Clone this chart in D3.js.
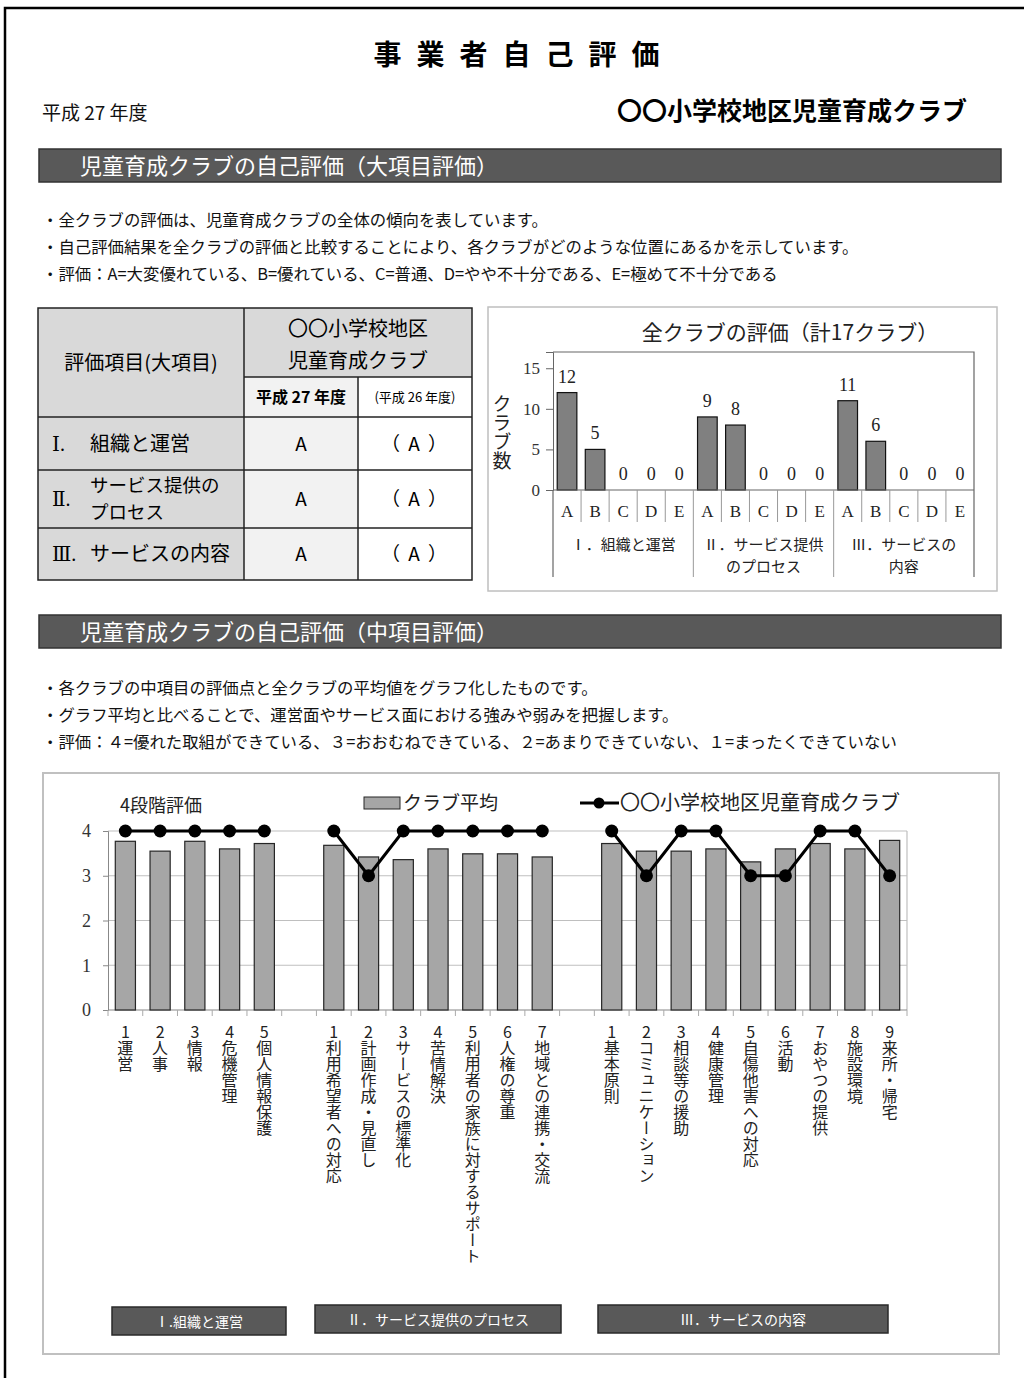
<!DOCTYPE html>
<html><head><meta charset="utf-8">
<script src="https://cdn.jsdelivr.net/npm/d3@7"></script>
<style>
html,body{margin:0;padding:0;background:#fff;}
svg text{font-family:"Noto Sans CJK JP","Noto Sans",sans-serif;}
.serif{font-family:"Liberation Serif","DejaVu Serif",serif !important;}
</style></head>
<body>
<svg id="page" width="1024" height="1378"></svg>
<script>
// ---------- DATA ----------
const pageTitle = "事業者自己評価";
const fiscalYear = "平成 27 年度";
const clubName = "〇〇小学校地区児童育成クラブ";
const section1Title = "児童育成クラブの自己評価（大項目評価）";
const section1Notes = [
  "・全クラブの評価は、児童育成クラブの全体の傾向を表しています。",
  "・自己評価結果を全クラブの評価と比較することにより、各クラブがどのような位置にあるかを示しています。",
  "・評価：A=大変優れている、B=優れている、C=普通、D=やや不十分である、E=極めて不十分である"
];
const section2Title = "児童育成クラブの自己評価（中項目評価）";
const section2Notes = [
  "・各クラブの中項目の評価点と全クラブの平均値をグラフ化したものです。",
  "・グラフ平均と比べることで、運営面やサービス面における強みや弱みを把握します。",
  "・評価：４=優れた取組ができている、３=おおむねできている、２=あまりできていない、１=まったくできていない"
];
// table
const tableRowNums = ["Ⅰ.", "Ⅱ.", "Ⅲ."];
const tableRowNames = [["組織と運営"], ["サービス提供の", "プロセス"], ["サービスの内容"]];
const tableGrade27 = ["A", "A", "A"];
const tableGrade26 = ["（ A ）", "（ A ）", "（ A ）"];
// top chart
const topChartTitle = "全クラブの評価（計17クラブ）";
const grades = ["A", "B", "C", "D", "E"];
const topGroupLabels = [["Ⅰ．組織と運営"], ["Ⅱ．サービス提供", "のプロセス"], ["Ⅲ．サービスの", "内容"]];
const topCountsI = [12, 5, 0, 0, 0];
const topCountsII = [9, 8, 0, 0, 0];
const topCountsIII = [11, 6, 0, 0, 0];
const topTicks = [0, 5, 10, 15];
// bottom chart
const itemsI = ["1運営", "2人事", "3情報", "4危機管理", "5個人情報保護"];
const itemsII = ["1利用希望者への対応", "2計画作成・見直し", "3サービスの標準化", "4苦情解決", "5利用者の家族に対するサポート", "6人権の尊重", "7地域との連携・交流"];
const itemsIII = ["1基本原則", "2コミュニケーション", "3相談等の援助", "4健康管理", "5自傷他害への対応", "6活動", "7おやつの提供", "8施設環境", "9来所・帰宅"];
const avgI = [3.77, 3.55, 3.77, 3.60, 3.72];
const avgII = [3.68, 3.42, 3.36, 3.60, 3.49, 3.49, 3.42];
const avgIII = [3.72, 3.55, 3.55, 3.60, 3.31, 3.60, 3.72, 3.60, 3.79];
const clubI = [4, 4, 4, 4, 4];
const clubII = [4, 3, 4, 4, 4, 4, 4];
const clubIII = [4, 3, 4, 4, 3, 3, 4, 4, 3];
const bottomTicks = [0, 1, 2, 3, 4];
const bottomGroupButtons = ["Ⅰ.組織と運営", "Ⅱ．サービス提供のプロセス", "Ⅲ．サービスの内容"];
const legendScaleLabel = "4段階評価";
const legendAvg = "クラブ平均";

// ---------- DRAW ----------
const svg = d3.select("#page");
const DARK = "#595959";

// page border
svg.append("path").attr("d", "M5,1378 V8 H1024").attr("fill", "none").attr("stroke", "#000").attr("stroke-width", 2.5);

// title
svg.append("text").attr("x", 524).attr("y", 65).attr("text-anchor", "middle")
  .attr("font-size", 28).attr("font-weight", "bold").style("letter-spacing", "15px").text(pageTitle);
svg.append("text").attr("x", 42).attr("y", 120).attr("font-size", 19).attr("fill", "#111").text(fiscalYear);
svg.append("text").attr("x", 967).attr("y", 120).attr("text-anchor", "end").attr("font-size", 25)
  .attr("font-weight", "bold").text(clubName);

function sectionBar(y, title) {
  svg.append("rect").attr("x", 39).attr("y", y).attr("width", 962).attr("height", 33)
    .attr("fill", DARK).attr("stroke", "#333").attr("stroke-width", 1.5);
  svg.append("text").attr("x", 80).attr("y", y + 25).attr("font-size", 22).attr("fill", "#fff").text(title);
}
function notes(y0, arr) {
  svg.selectAll(null).data(arr).enter().append("text")
    .attr("x", 42).attr("y", (d, i) => y0 + i * 27).attr("font-size", 16.4).attr("fill", "#111").text(d => d);
}
sectionBar(149, section1Title);
notes(226, section1Notes);
sectionBar(615, section2Title);
notes(694, section2Notes);

// ---------- TABLE ----------
const tb = svg.append("g");
const cx0 = 38, cx1 = 244, cx2 = 358, cx3 = 472;
const ry = [308, 377, 417, 470, 528, 580];
tb.append("rect").attr("x", cx0).attr("y", ry[0]).attr("width", cx3 - cx0).attr("height", ry[5] - ry[0]).attr("fill", "#fff");
tb.append("rect").attr("x", cx0).attr("y", ry[0]).attr("width", cx1 - cx0).attr("height", ry[5] - ry[0]).attr("fill", "#d9d9d9");
tb.append("rect").attr("x", cx1).attr("y", ry[0]).attr("width", cx3 - cx1).attr("height", ry[1] - ry[0]).attr("fill", "#d9d9d9");
tb.append("rect").attr("x", cx1).attr("y", ry[1]).attr("width", cx2 - cx1).attr("height", ry[5] - ry[1]).attr("fill", "#f2f2f2");
const tl = (x1, y1, x2, y2) => tb.append("line").attr("x1", x1).attr("y1", y1).attr("x2", x2).attr("y2", y2).attr("stroke", "#222").attr("stroke-width", 1.5);
tb.append("rect").attr("x", cx0).attr("y", ry[0]).attr("width", cx3 - cx0).attr("height", ry[5] - ry[0]).attr("fill", "none").attr("stroke", "#222").attr("stroke-width", 1.5);
tl(cx1, ry[0], cx1, ry[5]);
tl(cx2, ry[1], cx2, ry[5]);
tl(cx1, ry[1], cx3, ry[1]);
[ry[2], ry[3], ry[4]].forEach(y => tl(cx0, y, cx3, y));
tb.append("text").attr("x", 141).attr("y", 370).attr("text-anchor", "middle").attr("font-size", 20).text("評価項目(大項目)");
const hdr = tb.append("text").attr("x", 358).attr("y", 336).attr("text-anchor", "middle").attr("font-size", 20);
hdr.append("tspan").attr("x", 358).text("〇〇小学校地区");
hdr.append("tspan").attr("x", 358).attr("dy", 32).text("児童育成クラブ");
tb.append("text").attr("x", 301).attr("y", 403).attr("text-anchor", "middle").attr("font-size", 16).attr("font-weight", "bold").text("平成 27 年度");
tb.append("text").attr("x", 415).attr("y", 402).attr("text-anchor", "middle").attr("font-size", 13).text("(平成 26 年度)");
tableRowNums.forEach((n, i) => {
  const ymid = (ry[i + 2] + ry[i + 3]) / 2;
  tb.append("text").attr("x", 52).attr("y", ymid + 7).attr("font-size", 20).attr("class", "serif").text(n);
  const lines = tableRowNames[i];
  if (lines.length === 1) {
    tb.append("text").attr("x", 90).attr("y", ymid + 7).attr("font-size", 20).text(lines[0]);
  } else {
    lines.forEach((s, j) => {
      tb.append("text").attr("x", 90).attr("y", ymid + 6 + (j - 0.5) * 27).attr("font-size", 18.5).text(s);
    });
  }
  tb.append("text").attr("x", 301).attr("y", ymid + 7).attr("text-anchor", "middle").attr("font-size", 19).text(tableGrade27[i]);
  tb.append("text").attr("x", 415).attr("y", ymid + 7).attr("text-anchor", "middle").attr("font-size", 19).style("letter-spacing", "2px").text(tableGrade26[i]);
});

// ---------- TOP CHART ----------
const tc = svg.append("g");
tc.append("rect").attr("x", 488).attr("y", 307).attr("width", 509).attr("height", 284).attr("fill", "#fff").attr("stroke", "#bfbfbf").attr("stroke-width", 1.5);
tc.append("text").attr("x", 790).attr("y", 340).attr("text-anchor", "middle").attr("font-size", 21).attr("fill", "#222").text(topChartTitle);
const topData = [];
[topCountsI, topCountsII, topCountsIII].forEach((arr, g) => arr.forEach((v, i) => topData.push({ key: g + "-" + grades[i], g, grade: grades[i], v })));
const tx = d3.scaleBand().domain(topData.map(d => d.key)).range([553, 974]).paddingInner(0.3).paddingOuter(0.15);
const ty = d3.scaleLinear().domain([0, 17]).range([490, 352]);
tc.append("path").attr("d", `M553,352 H974 V577`).attr("fill", "none").attr("stroke", "#666").attr("stroke-width", 1.2);
tc.selectAll(null).data(topData).enter().append("rect")
  .attr("x", d => tx(d.key)).attr("width", tx.bandwidth())
  .attr("y", d => ty(d.v)).attr("height", d => ty(0) - ty(d.v))
  .attr("fill", "#808080").attr("stroke", "#111").attr("stroke-width", 1.2);
tc.selectAll(null).data(topData).enter().append("text").attr("class", "serif")
  .attr("x", d => tx(d.key) + tx.bandwidth() / 2).attr("y", d => ty(d.v) - 10)
  .attr("text-anchor", "middle").attr("font-size", 18).attr("fill", "#222").text(d => d.v);
const tAxis = d3.axisLeft(ty).tickValues(topTicks).tickSize(7).tickPadding(6);
const tag = tc.append("g").attr("transform", "translate(553,0)").call(tAxis);
tag.select(".domain").attr("stroke", "#666");
tag.selectAll(".tick line").attr("stroke", "#666");
tag.selectAll("text").attr("class", "serif").attr("font-size", 17).attr("fill", "#333");
tc.append("line").attr("x1", 553).attr("x2", 553).attr("y1", 490).attr("y2", 577).attr("stroke", "#666").attr("stroke-width", 1.2);
tc.append("line").attr("x1", 553).attr("x2", 974).attr("y1", 490).attr("y2", 490).attr("stroke", "#666").attr("stroke-width", 1.2);
const tstep = tx.step();
topData.forEach((d, i) => {
  if (i === 0) return;
  const xb = tx(d.key) - tstep * tx.paddingInner() / 2;
  const long = grades.indexOf(d.grade) === 0;
  tc.append("line").attr("x1", xb).attr("x2", xb).attr("y1", 490).attr("y2", long ? 577 : 522).attr("stroke", "#999").attr("stroke-width", 1);
});
tc.selectAll(null).data(topData).enter().append("text").attr("class", "serif")
  .attr("x", d => tx(d.key) + tx.bandwidth() / 2).attr("y", 517).attr("text-anchor", "middle")
  .attr("font-size", 17).attr("fill", "#222").text(d => d.grade);
topGroupLabels.forEach((lines, g) => {
  const x0 = tx(g + "-A"), x1 = tx(g + "-E") + tx.bandwidth();
  lines.forEach((s, j) => {
    tc.append("text").attr("x", (x0 + x1) / 2).attr("y", 550 + j * 22).attr("text-anchor", "middle").attr("font-size", 15).attr("fill", "#222").text(s);
  });
});
tc.append("text").attr("x", 502).attr("y", 394).attr("font-size", 19).attr("fill", "#222")
  .style("writing-mode", "vertical-rl").text("クラブ数");

// ---------- BOTTOM CHART ----------
const bc = svg.append("g");
bc.append("rect").attr("x", 43).attr("y", 773).attr("width", 956).attr("height", 581).attr("fill", "#fff").attr("stroke", "#c0c0c0").attr("stroke-width", 2);
const bData = [];
[[itemsI, avgI, clubI], [itemsII, avgII, clubII], [itemsIII, avgIII, clubIII]].forEach(([items, avg, club], g) => {
  if (g > 0) bData.push({ key: "gap" + g, gap: true });
  items.forEach((name, i) => bData.push({ key: g + "-" + i, g, name, avg: avg[i], club: club[i] }));
});
const bx = d3.scaleBand().domain(bData.map(d => d.key)).range([108, 907]).paddingInner(0.42).paddingOuter(0.21);
const by = d3.scaleLinear().domain([0, 4]).range([1010, 831]);
bc.selectAll(null).data(bottomTicks.slice(1)).enter().append("line")
  .attr("x1", 108).attr("x2", 907).attr("y1", d => by(d)).attr("y2", d => by(d)).attr("stroke", "#bfbfbf").attr("stroke-width", 1.2);
bc.append("line").attr("x1", 907).attr("x2", 907).attr("y1", 831).attr("y2", 1010).attr("stroke", "#bfbfbf").attr("stroke-width", 1.2);
const bAxis = d3.axisLeft(by).tickValues(bottomTicks).tickFormat(d3.format("d")).tickSize(5).tickPadding(12);
const bag = bc.append("g").attr("transform", "translate(108,0)").call(bAxis);
bag.select(".domain").attr("stroke", "#888");
bag.selectAll(".tick line").attr("stroke", "#888");
bag.selectAll("text").attr("class", "serif").attr("font-size", 18).attr("fill", "#333");
bc.append("line").attr("x1", 108).attr("x2", 907).attr("y1", 1010).attr("y2", 1010).attr("stroke", "#888").attr("stroke-width", 1.2);
const bstep = bx.step();
bData.forEach((d) => {
  const xb = bx(d.key) - bstep * bx.paddingInner() / 2;
  bc.append("line").attr("x1", xb).attr("x2", xb).attr("y1", 1010).attr("y2", 1016).attr("stroke", "#aaa");
});
bc.append("line").attr("x1", 907).attr("x2", 907).attr("y1", 1010).attr("y2", 1016).attr("stroke", "#aaa");
const real = bData.filter(d => !d.gap);
bc.selectAll(null).data(real).enter().append("rect")
  .attr("x", d => bx(d.key)).attr("width", bx.bandwidth())
  .attr("y", d => by(d.avg)).attr("height", d => by(0) - by(d.avg))
  .attr("fill", "#a6a6a6").attr("stroke", "#262626").attr("stroke-width", 1.2);
const line = d3.line().defined(d => !d.gap).x(d => bx(d.key) + bx.bandwidth() / 2).y(d => by(d.club));
bc.append("path").datum(bData).attr("d", line).attr("fill", "none").attr("stroke", "#000").attr("stroke-width", 3);
bc.selectAll(null).data(real).enter().append("circle")
  .attr("cx", d => bx(d.key) + bx.bandwidth() / 2).attr("cy", d => by(d.club)).attr("r", 6.5).attr("fill", "#000");
bc.selectAll(null).data(real).enter().append("text")
  .attr("x", d => bx(d.key) + bx.bandwidth() / 2).attr("y", 1024)
  .attr("font-size", 16).attr("fill", "#222")
  .style("writing-mode", "vertical-rl").style("text-orientation", "upright")
  .text(d => d.name);
// legend
bc.append("text").attr("x", 120).attr("y", 812).attr("font-size", 18).attr("fill", "#222").text(legendScaleLabel);
bc.append("rect").attr("x", 364).attr("y", 797).attr("width", 36).attr("height", 12).attr("fill", "#a6a6a6").attr("stroke", "#262626");
bc.append("text").attr("x", 403).attr("y", 810).attr("font-size", 19).attr("fill", "#222").text(legendAvg);
bc.append("line").attr("x1", 580).attr("x2", 619).attr("y1", 803).attr("y2", 803).attr("stroke", "#000").attr("stroke-width", 3);
bc.append("circle").attr("cx", 599).attr("cy", 803).attr("r", 5.5).attr("fill", "#000");
bc.append("text").attr("x", 620).attr("y", 810).attr("font-size", 20).attr("fill", "#222").text(clubName);
// group buttons
const btns = [[112, 1307, 174], [315, 1305, 246], [598, 1305, 290]];
bottomGroupButtons.forEach((t, i) => {
  const [x, y, w] = btns[i];
  bc.append("rect").attr("x", x).attr("y", y).attr("width", w).attr("height", 28).attr("fill", DARK).attr("stroke", "#2a2a2a").attr("stroke-width", 1.5);
  bc.append("text").attr("x", x + w / 2).attr("y", y + 20).attr("text-anchor", "middle").attr("font-size", 14).attr("fill", "#fff").text(t);
});
</script>
</body></html>
